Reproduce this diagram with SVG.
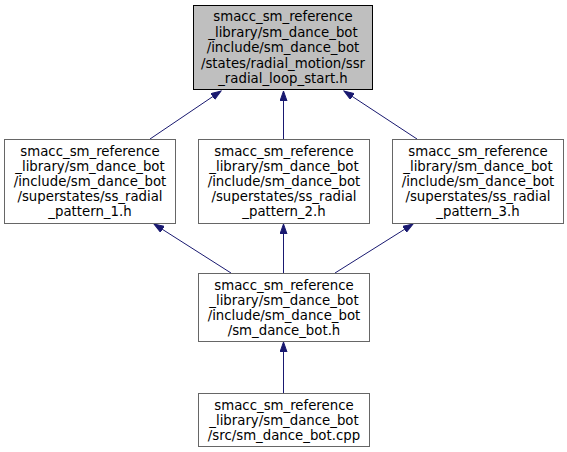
<svg xmlns="http://www.w3.org/2000/svg" width="567" height="452" viewBox="0 0 567 452">
<style>
.box{fill:#ffffff;stroke:#666666;stroke-width:1}
.root{fill:#bfbfbf;stroke:#000000;stroke-width:1}
.lbl{font-family:"DejaVu Sans",sans-serif;font-size:13.3px;fill:#000000;text-anchor:middle}
.edge{stroke:#191970;stroke-width:1;fill:none;marker-end:url(#arr)}
</style>
<defs>
<marker id="arr" markerUnits="userSpaceOnUse" markerWidth="11" markerHeight="8" refX="10" refY="4" orient="auto">
<path d="M0,0.5 L10,4 L0,7.5 z" fill="#191970" stroke="#191970" stroke-width="1"/>
</marker>
</defs>
<rect width="567" height="452" fill="#ffffff"/>
<g id="connectors">
<line class="edge" x1="150" y1="139" x2="221" y2="91"/>
<line class="edge" x1="283.5" y1="139" x2="283.5" y2="91"/>
<line class="edge" x1="417" y1="139" x2="344" y2="91"/>
<line class="edge" x1="231" y1="273" x2="154" y2="224"/>
<line class="edge" x1="283.5" y1="273" x2="283.5" y2="224"/>
<line class="edge" x1="335" y1="273" x2="413" y2="224"/>
<line class="edge" x1="283.5" y1="393" x2="283.5" y2="342"/>
</g>
<g id="node_ssr_radial_loop_start">
<rect class="root" x="193.5" y="5.5" width="179" height="84"/>
<text class="lbl" x="283" y="21">smacc_sm_reference</text>
<text class="lbl" x="283" y="36.5">_library/sm_dance_bot</text>
<text class="lbl" x="283" y="52">/include/sm_dance_bot</text>
<text class="lbl" x="283" y="67.5">/states/radial_motion/ssr</text>
<text class="lbl" x="283" y="83">_radial_loop_start.h</text>
</g>
<g id="node_ss_radial_pattern_1">
<rect class="box" x="4.5" y="139.5" width="171" height="84"/>
<text class="lbl" x="90" y="155.5">smacc_sm_reference</text>
<text class="lbl" x="90" y="170.5">_library/sm_dance_bot</text>
<text class="lbl" x="90" y="185.5">/include/sm_dance_bot</text>
<text class="lbl" x="90" y="200.5">/superstates/ss_radial</text>
<text class="lbl" x="90" y="215.5">_pattern_1.h</text>
</g>
<g id="node_ss_radial_pattern_2">
<rect class="box" x="198.5" y="139.5" width="171" height="84"/>
<text class="lbl" x="284" y="155.5">smacc_sm_reference</text>
<text class="lbl" x="284" y="170.5">_library/sm_dance_bot</text>
<text class="lbl" x="284" y="185.5">/include/sm_dance_bot</text>
<text class="lbl" x="284" y="200.5">/superstates/ss_radial</text>
<text class="lbl" x="284" y="215.5">_pattern_2.h</text>
</g>
<g id="node_ss_radial_pattern_3">
<rect class="box" x="392.5" y="139.5" width="171" height="84"/>
<text class="lbl" x="478" y="155.5">smacc_sm_reference</text>
<text class="lbl" x="478" y="170.5">_library/sm_dance_bot</text>
<text class="lbl" x="478" y="185.5">/include/sm_dance_bot</text>
<text class="lbl" x="478" y="200.5">/superstates/ss_radial</text>
<text class="lbl" x="478" y="215.5">_pattern_3.h</text>
</g>
<g id="node_sm_dance_bot_h">
<rect class="box" x="198.5" y="273.5" width="171" height="68"/>
<text class="lbl" x="284" y="289.5">smacc_sm_reference</text>
<text class="lbl" x="284" y="304.5">_library/sm_dance_bot</text>
<text class="lbl" x="284" y="319.5">/include/sm_dance_bot</text>
<text class="lbl" x="284" y="334.5">/sm_dance_bot.h</text>
</g>
<g id="node_sm_dance_bot_cpp">
<rect class="box" x="198.5" y="393.5" width="171" height="53"/>
<text class="lbl" x="284" y="409.5">smacc_sm_reference</text>
<text class="lbl" x="284" y="424.5">_library/sm_dance_bot</text>
<text class="lbl" x="284" y="439.5">/src/sm_dance_bot.cpp</text>
</g>
</svg>
